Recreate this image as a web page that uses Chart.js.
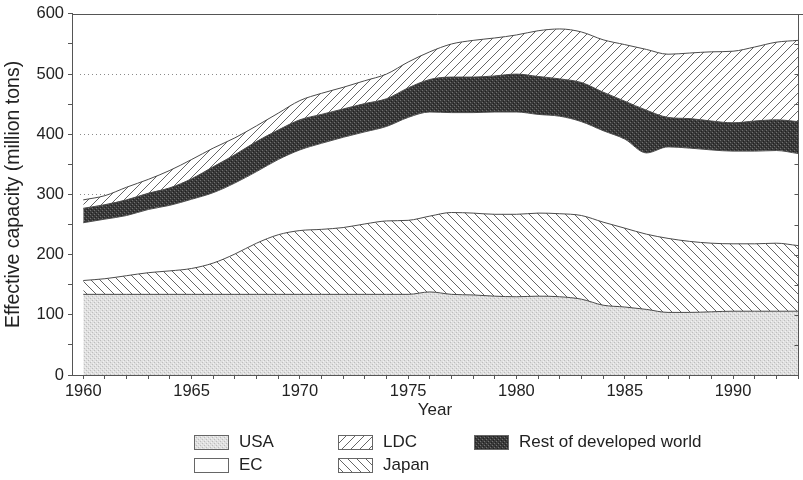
<!DOCTYPE html>
<html><head><meta charset="utf-8">
<script src="https://cdn.jsdelivr.net/npm/chart.js@4.4.1/dist/chart.umd.min.js"></script>
<style>
html,body{margin:0;padding:0;background:#fff;}
#wrap{position:relative;width:803px;height:480px;overflow:hidden;}
#c{position:absolute;left:0;top:0;}
.lg{position:absolute;font-family:"Liberation Sans",Arial,Helvetica,sans-serif;font-size:17px;color:#222;display:flex;align-items:center;white-space:nowrap;height:16px;line-height:16px;}
.lg canvas{display:block;margin-right:10px;}
</style></head><body>
<div id="wrap"><canvas id="c" width="803" height="480"></canvas><div id="legend"></div></div>
<script>
// ---- data (million tons) ----
const years = [1960,1961,1962,1963,1964,1965,1966,1967,1968,1969,1970,1971,1972,1973,1974,1975,1976,1977,1978,1979,1980,1981,1982,1983,1984,1985,1986,1987,1988,1989,1990,1991,1992,1993];
const usa   = [134,134,134,134,134,134,134,134,134,134,134,134,134,134,134,134,138,134,133,131,130,131,130,126,116,113,109,104,104,105,106,106,106,106];
const japan = [23,26,31,36,39,43,52,67,85,99,106,108,111,117,122,123,126,136,136,136,137,138,138,139,138,131,125,123,118,114,112,112,113,109];
const ec    = [96,99,100,105,109,115,117,118,119,125,134,143,150,153,157,171,173,166,167,170,170,164,162,156,152,148,135,152,155,155,154,154,154,153];
const rest  = [24,24,26,27,29,34,43,47,50,49,50,48,47,47,46,49,54,59,59,60,63,63,62,65,64,63,71,49,49,48,47,50,51,53];
const ldc   = [14,15,21,23,29,32,31,28,26,28,32,35,36,38,41,43,46,55,61,63,65,76,83,84,87,94,101,105,109,115,119,123,129,135];
const yTickLabels = [0,100,200,300,400,500,600];
const xTickLabels = [1960,1965,1970,1975,1980,1985,1990];
const gridVals = [300,400,500];

// ---- fill patterns ----
function makePattern(kind){
  const s = kind==='ldc'||kind==='japan' ? 9 : 4;
  const c = document.createElement('canvas'); c.width=s; c.height=s;
  const g = c.getContext('2d');
  if(kind==='usa'){
    g.fillStyle='#e0e0e0'; g.fillRect(0,0,s,s);
    g.fillStyle='#bdbdbd'; g.fillRect(0,0,1,1); g.fillRect(2,2,1,1);
    g.fillStyle='#f2f2f2'; g.fillRect(1,3,1,1); g.fillRect(3,1,1,1);
  } else if(kind==='rest'){
    g.fillStyle='#3a3a3a'; g.fillRect(0,0,s,s);
    g.fillStyle='#707070'; g.fillRect(0,0,1,1); g.fillRect(2,2,1,1);
    g.fillStyle='#202020'; g.fillRect(1,3,1,1); g.fillRect(3,1,1,1);
  } else if(kind==='ec'){
    g.fillStyle='#ffffff'; g.fillRect(0,0,s,s);
  } else {
    g.fillStyle='#ffffff'; g.fillRect(0,0,s,s);
    g.strokeStyle='#555'; g.lineWidth=0.9;
    g.beginPath();
    if(kind==='ldc'){
      g.moveTo(-1,s+1); g.lineTo(s+1,-1);
      g.moveTo(-2,1); g.lineTo(1,-2);
      g.moveTo(s-1,s+2); g.lineTo(s+2,s-1);
    } else {
      g.moveTo(-1,-1); g.lineTo(s+1,s+1);
      g.moveTo(-2,s-1); g.lineTo(1,s+2);
      g.moveTo(s-1,-2); g.lineTo(s+2,1);
    }
    g.stroke();
  }
  return g.createPattern(c,'repeat');
}
const ctx0 = document.getElementById('c').getContext('2d');
const pats = {usa:makePattern('usa'), japan:makePattern('japan'), ec:makePattern('ec'), rest:makePattern('rest'), ldc:makePattern('ldc')};

function pts(arr){ return years.map((y,i)=>({x:y, y:arr[i]})); }

const series = [
  {key:'usa', label:'USA', data:usa, fill:'origin'},
  {key:'japan', label:'Japan', data:japan, fill:'-1'},
  {key:'ec', label:'EC', data:ec, fill:'-1'},
  {key:'rest', label:'Rest of developed world', data:rest, fill:'-1'},
  {key:'ldc', label:'LDC', data:ldc, fill:'-1'}
];

const gridPlugin = {
  id:'dotgrid',
  beforeDatasetsDraw(chart){
    const {ctx, chartArea:a, scales:{y}} = chart;
    ctx.save(); ctx.strokeStyle='#8a8a8a'; ctx.lineWidth=1; ctx.setLineDash([1,3]);
    gridVals.forEach(v=>{ const py=Math.round(y.getPixelForValue(v))+0.5; ctx.beginPath(); ctx.moveTo(a.left+8,py); ctx.lineTo(a.right,py); ctx.stroke(); });
    ctx.restore();
  }
};
const framePlugin = {
  id:'frame',
  afterDraw(chart){
    const {ctx, chartArea:a, scales:{y}} = chart;
    ctx.save(); ctx.strokeStyle='#555'; ctx.lineWidth=1;
    const top = Math.round(a.top)+0.5, right = Math.round(a.right)+0.5;
    ctx.beginPath(); ctx.moveTo(a.left, top); ctx.lineTo(chart.width, top); ctx.stroke();
    ctx.beginPath(); ctx.moveTo(right, top); ctx.lineTo(right, a.bottom); ctx.stroke();
    for(let v=0; v<=600; v+=50){ const py=Math.round(y.getPixelForValue(v))+0.5; ctx.beginPath(); ctx.moveTo(right-4,py); ctx.lineTo(right,py); ctx.stroke(); }
    ctx.restore();
  }
};

Chart.defaults.font.family = '"Liberation Sans", Arial, Helvetica, sans-serif';
Chart.defaults.color = '#222';

new Chart(ctx0, {
  type:'line',
  data:{ datasets: series.map(s=>({
    label:s.label, data:pts(s.data), fill:s.fill,
    backgroundColor:pats[s.key], borderColor:'#4a4a4a', borderWidth:1,
    pointRadius:0, cubicInterpolationMode:'monotone'
  }))},
  options:{
    responsive:false, animation:false,
    layout:{padding:{left:0,right:5,top:8,bottom:55}},
    plugins:{legend:{display:false}, tooltip:{enabled:false}},
    scales:{
      x:{type:'linear', min:1959.48, max:1993,
        afterBuildTicks:s=>{ s.ticks = years.map(v=>({value:v})); },
        afterFit:s=>{ s.height = 50; },
        grid:{drawOnChartArea:false, tickLength:4, tickColor:'#555'},
        border:{color:'#555'},
        ticks:{autoSkip:false, maxRotation:0, padding:3, color:'#222', font:{size:16.5},
          callback:v=> xTickLabels.includes(v) ? String(v) : ''},
        title:{display:true, text:'Year', color:'#222', font:{size:17}, padding:{top:0,bottom:4}}
      },
      y:{stacked:true, min:0, max:600,
        afterFit:s=>{ s.width = 72; },
        grid:{drawOnChartArea:false, tickLength:4, tickColor:'#555'},
        border:{color:'#555'},
        ticks:{stepSize:50, padding:4, color:'#222', font:{size:16.5},
          callback:v=> yTickLabels.includes(v) ? String(v) : ''},
        title:{display:true, text:'Effective capacity (million tons)', color:'#222', font:{size:19.5}, padding:{top:2,bottom:2}}
      }
    }
  },
  plugins:[gridPlugin, framePlugin]
});

// ---- legend (two rows, three columns) ----
const legendItems = [
  {key:'usa', label:'USA', x:194, y:434},
  {key:'ec', label:'EC', x:194, y:457},
  {key:'ldc', label:'LDC', x:338, y:434},
  {key:'japan', label:'Japan', x:338, y:457},
  {key:'rest', label:'Rest of developed world', x:474, y:434}
];
const lg = document.getElementById('legend');
legendItems.forEach(it=>{
  const d = document.createElement('div'); d.className='lg';
  d.style.left = it.x+'px'; d.style.top = it.y+'px';
  const cv = document.createElement('canvas'); cv.width=35; cv.height=15;
  const g = cv.getContext('2d');
  g.fillStyle = pats[it.key]; g.fillRect(0,0,35,15);
  g.strokeStyle='#666'; g.lineWidth=1; g.strokeRect(0.5,0.5,34,14);
  d.appendChild(cv);
  const t = document.createElement('span'); t.textContent = it.label; d.appendChild(t);
  lg.appendChild(d);
});
</script>
</body></html>
